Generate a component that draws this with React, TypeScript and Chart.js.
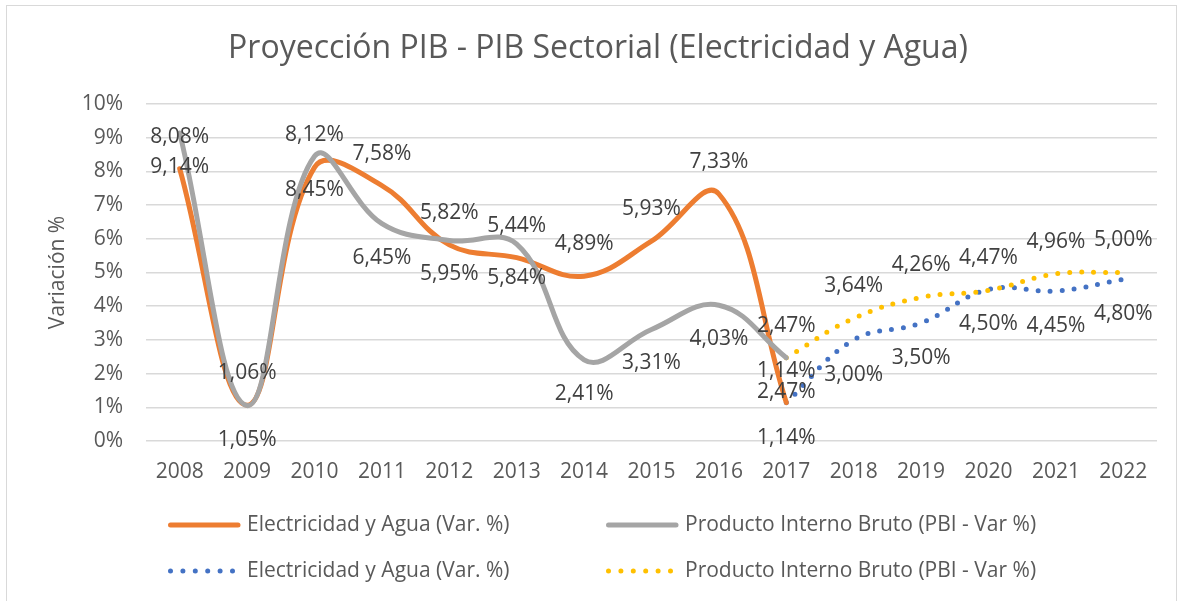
import React, { useEffect, useRef } from 'react';
import { Chart, registerables } from 'chart.js';

Chart.register(...registerables);

const years = ['2008', '2009', '2010', '2011', '2012', '2013', '2014', '2015', '2016', '2017', '2018', '2019', '2020', '2021', '2022'];
const elecHist = [8.08, 1.06, 8.12, 7.58, 5.82, 5.44, 4.89, 5.93, 7.33, 1.14];
const pbiHist = [9.14, 1.05, 8.45, 6.45, 5.95, 5.84, 2.41, 3.31, 4.03, 2.47];
const elecProj = [1.14, 3.0, 3.5, 4.5, 4.45, 4.8];
const pbiProj = [2.47, 3.64, 4.26, 4.47, 4.96, 5.0];
const yTickValues = [0, 1, 2, 3, 4, 5, 6, 7, 8, 9, 10];

const title = 'Proyección PIB - PIB Sectorial (Electricidad y Agua)';
const yTitle = 'Variación %';
const labelElec = 'Electricidad y Agua (Var. %)';
const labelPbi = 'Producto Interno Bruto (PBI - Var %)';

const FONT = '"Open Sans", sans-serif';
const ORANGE = '#ED7D31';
const GRAY = '#A5A5A5';
const BLUE = '#4472C4';
const YELLOW = '#FFC000';
const TEXT = '#595959';

const place = (arr: number[], start: number) =>
  years.map((_, i) => (i >= start && i < start + arr.length ? arr[i - start] : null));

const fmt = (v: number) => v.toFixed(2).replace('.', ',') + '%';

const bgPlugin = {
  id: 'bgBorder',
  beforeDraw(chart: any) {
    const { ctx, width, height } = chart;
    ctx.save();
    ctx.fillStyle = '#FFFFFF';
    ctx.fillRect(0, 0, width, height);
    ctx.strokeStyle = '#D9D9D9';
    ctx.lineWidth = 1;
    ctx.strokeRect(6.5, 5.5, 1170, 605);
    ctx.restore();
  },
};

const labelPlugin = {
  id: 'pointLabels',
  afterDatasetsDraw(chart: any) {
    const { ctx } = chart;
    ctx.save();
    ctx.font = `21px ${FONT}`;
    ctx.fillStyle = '#404040';
    ctx.textAlign = 'center';
    ctx.textBaseline = 'middle';
    chart.data.datasets.forEach((ds: any, di: number) => {
      const meta = chart.getDatasetMeta(di);
      meta.data.forEach((pt: any, i: number) => {
        const v = ds.data[i];
        if (v == null) return;
        ctx.fillText(fmt(v), pt.x, pt.y + ds.labelOffset);
      });
    });
    ctx.restore();
  },
};

const legendPlugin = {
  id: 'gridLegend',
  afterDraw(chart: any) {
    const { ctx, chartArea } = chart;
    const rows = [chartArea.bottom + 84, chartArea.bottom + 130];
    const cols = [168, 606];
    const items = [
      { text: labelElec, color: ORANGE, dotted: false, c: 0, r: 0 },
      { text: labelPbi, color: GRAY, dotted: false, c: 1, r: 0 },
      { text: labelElec, color: BLUE, dotted: true, c: 0, r: 1 },
      { text: labelPbi, color: YELLOW, dotted: true, c: 1, r: 1 },
    ];
    ctx.save();
    items.forEach((it) => {
      const x = cols[it.c];
      const y = rows[it.r];
      ctx.beginPath();
      ctx.strokeStyle = it.color;
      ctx.lineWidth = 5;
      ctx.lineCap = 'round';
      ctx.setLineDash(it.dotted ? [0, 12.4] : []);
      ctx.moveTo(x + 2.5, y);
      ctx.lineTo(x + 70, y);
      ctx.stroke();
      ctx.setLineDash([]);
      ctx.font = `21px ${FONT}`;
      ctx.fillStyle = TEXT;
      ctx.textAlign = 'left';
      ctx.textBaseline = 'middle';
      ctx.fillText(it.text, x + 79, y);
    });
    ctx.restore();
  },
};

export default function App() {
  const ref = useRef<HTMLCanvasElement | null>(null);

  useEffect(() => {
    document.body.style.margin = '0';
    if (!ref.current) return;
    const projStart = years.length - elecProj.length;
    const chart = new Chart(ref.current, {
      type: 'line',
      data: {
        labels: years,
        datasets: [
          {
            label: labelPbi,
            data: place(pbiHist, 0),
            borderColor: GRAY,
            backgroundColor: GRAY,
            borderWidth: 5,
            tension: 0.4,
            pointRadius: 0,
            borderCapStyle: 'round',
            order: 0,
            labelOffset: 34,
          } as any,
          {
            label: labelElec,
            data: place(elecHist, 0),
            borderColor: ORANGE,
            backgroundColor: ORANGE,
            borderWidth: 5,
            tension: 0.4,
            pointRadius: 0,
            borderCapStyle: 'round',
            order: 1,
            labelOffset: -32,
          } as any,
          {
            label: labelPbi,
            data: place(pbiProj, projStart),
            borderColor: YELLOW,
            backgroundColor: YELLOW,
            borderWidth: 5,
            borderDash: [0, 12],
            borderCapStyle: 'round',
            tension: 0.4,
            pointRadius: 0,
            order: 2,
            labelOffset: -32,
          } as any,
          {
            label: labelElec,
            data: place(elecProj, projStart),
            borderColor: BLUE,
            backgroundColor: BLUE,
            borderWidth: 5,
            borderDash: [0, 12],
            borderCapStyle: 'round',
            tension: 0.4,
            pointRadius: 0,
            order: 3,
            labelOffset: 35,
          } as any,
        ],
      },
      options: {
        animation: false,
        responsive: false,
        maintainAspectRatio: false,
        layout: { padding: { left: 39, right: 29, top: 0, bottom: 110 } },
        plugins: {
          legend: { display: false },
          tooltip: { enabled: false },
          title: {
            display: true,
            text: title,
            color: TEXT,
            font: { family: FONT, size: 32, weight: 'normal' },
            padding: { top: 30, bottom: 35.6 },
          },
        },
        scales: {
          x: {
            offset: true,
            grid: { display: false },
            border: { display: false },
            ticks: {
              color: TEXT,
              font: { family: FONT, size: 21 },
              padding: 10,
              maxRotation: 0,
            },
            afterFit: (s: any) => {
              s.height = 50;
            },
          },
          y: {
            min: 0,
            max: 10,
            afterBuildTicks: (s: any) => {
              s.ticks = yTickValues.map((v) => ({ value: v }));
            },
            grid: { color: '#D9D9D9', lineWidth: 1.5, drawTicks: false },
            border: { display: false },
            ticks: {
              color: TEXT,
              font: { family: FONT, size: 21 },
              padding: 23,
              callback: (v: any) => v + '%',
            },
            title: {
              display: true,
              text: yTitle,
              color: TEXT,
              font: { family: FONT, size: 21 },
              padding: { top: 6.5, bottom: 0 },
            },
            afterFit: (s: any) => {
              s.width = 107;
            },
          },
        },
      },
      plugins: [bgPlugin, labelPlugin, legendPlugin],
    });
    return () => chart.destroy();
  }, []);

  return (
    <div style={{ width: 1186, height: 601 }}>
      <canvas ref={ref} width={1186} height={601} />
    </div>
  );
}
